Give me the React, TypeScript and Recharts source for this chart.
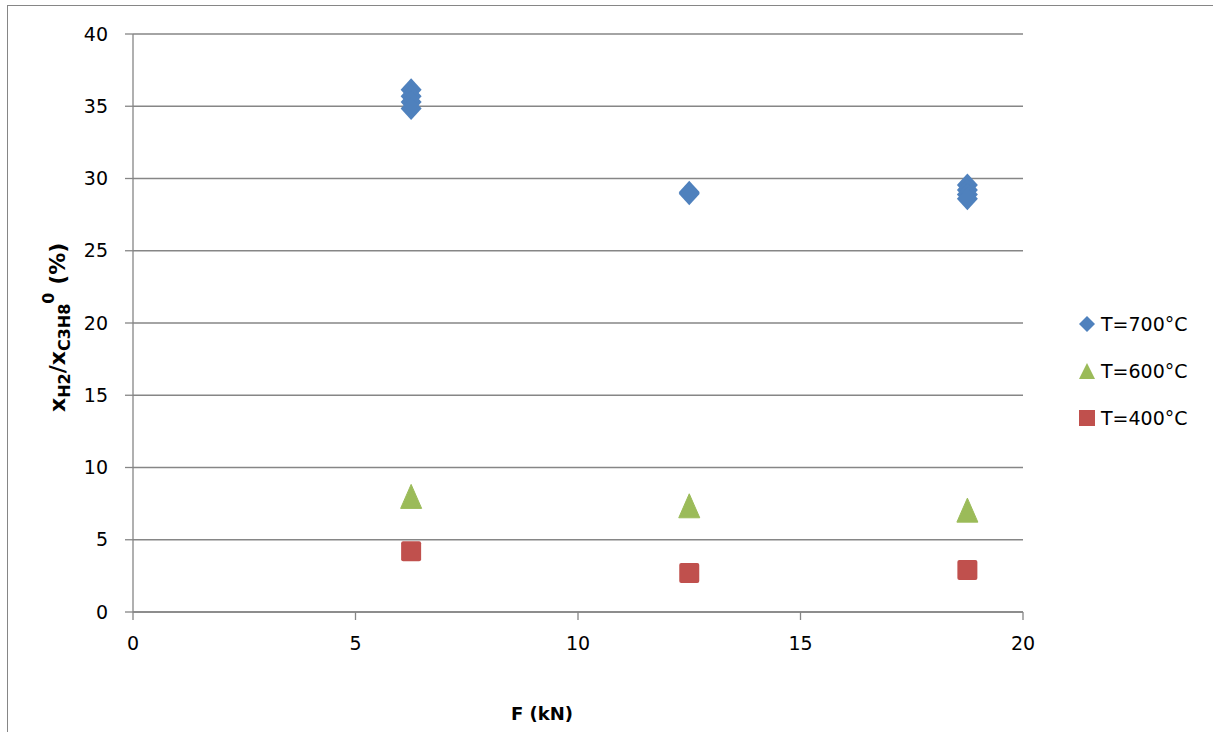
import React from 'react';
import { ScatterChart, Scatter, XAxis, YAxis, CartesianGrid, Legend, Label } from 'recharts';

const xTicks = [0, 5, 10, 15, 20];
const yTicks = [0, 5, 10, 15, 20, 25, 30, 35, 40];

const t700 = [
  { f: 6.25, v: 36.15 },
  { f: 6.25, v: 35.7 },
  { f: 6.25, v: 35.3 },
  { f: 6.25, v: 34.85 },
  { f: 12.5, v: 29.05 },
  { f: 12.5, v: 28.95 },
  { f: 18.75, v: 29.55 },
  { f: 18.75, v: 29.2 },
  { f: 18.75, v: 28.9 },
  { f: 18.75, v: 28.6 },
];
const t600 = [
  { f: 6.25, v: 8.0 },
  { f: 12.5, v: 7.35 },
  { f: 18.75, v: 7.05 },
];
const t400 = [
  { f: 6.25, v: 4.2 },
  { f: 12.5, v: 2.7 },
  { f: 18.75, v: 2.9 },
];

const BLUE = '#4F81BD';
const GREEN = '#9BBB59';
const RED = '#C0504D';
const GRAY = '#868686';
const FONT = 'DejaVu Sans';

const Diamond = (p: any) => (
  <polygon
    points={`${p.cx},${p.cy - 11.5} ${p.cx + 10.5},${p.cy} ${p.cx},${p.cy + 11.5} ${p.cx - 10.5},${p.cy}`}
    fill={BLUE}
  />
);
const Triangle = (p: any) => (
  <polygon
    points={`${p.cx},${p.cy - 12} ${p.cx + 10.5},${p.cy + 12} ${p.cx - 10.5},${p.cy + 12}`}
    fill={GREEN}
    strokeLinejoin="round"
    stroke={GREEN}
    strokeWidth={1}
  />
);
const Square = (p: any) => (
  <rect x={p.cx - 10} y={p.cy - 10} width={20} height={20} rx={2} fill={RED} />
);

const legendItems = [
  { name: 'T=700°C', color: BLUE, kind: 'diamond' },
  { name: 'T=600°C', color: GREEN, kind: 'triangle' },
  { name: 'T=400°C', color: RED, kind: 'square' },
];

const LegendIcon = ({ kind, color }: { kind: string; color: string }) => (
  <svg width={18} height={18} style={{ display: 'block' }}>
    {kind === 'diamond' && <polygon points="9,1 17,9 9,17 1,9" fill={color} />}
    {kind === 'triangle' && <polygon points="9,1 17,17 1,17" fill={color} />}
    {kind === 'square' && <rect x={1} y={1} width={16} height={16} fill={color} />}
  </svg>
);

const renderLegend = () => (
  <div style={{ fontFamily: FONT, fontSize: 19, color: '#000' }}>
    {legendItems.map((it) => (
      <div key={it.name} style={{ display: 'flex', alignItems: 'center', height: 47 }}>
        <LegendIcon kind={it.kind} color={it.color} />
        <span style={{ marginLeft: 5 }}>{it.name}</span>
      </div>
    ))}
  </div>
);

const YLabel = () => (
  <text
    x={65}
    y={412}
    transform="rotate(-90, 65, 412)"
    textAnchor="start"
    fontFamily={FONT}
    fontWeight="bold"
    fontSize={22}
    fill="#000"
  >
    <tspan>x</tspan>
    <tspan fontSize={16} dy={5}>H2</tspan>
    <tspan dy={-5}>/x</tspan>
    <tspan fontSize={16} dy={5}>C3H8</tspan>
    <tspan fontSize={16} dy={-16}>0</tspan>
    <tspan dy={11}> (%)</tspan>
  </text>
);

const XLabel = () => (
  <text x={542} y={720} textAnchor="middle" fontFamily={FONT} fontWeight="bold" fontSize={18} fill="#000">
    F (kN)
  </text>
);

export default function App() {
  return (
    <div style={{ position: 'absolute', left: 0, top: 0, width: 1214, height: 733, background: '#fff' }}>
      <div
        style={{
          position: 'absolute',
          left: 7,
          top: 5,
          width: 1205,
          height: 726,
          borderLeft: `1.5px solid ${GRAY}`,
          borderTop: `1.5px solid ${GRAY}`,
        }}
      />
      <div style={{ position: 'absolute', left: 0, top: 0 }}>
        <ScatterChart width={1214} height={733} margin={{ top: 34, right: 55, bottom: 0, left: 0 }}>
          <CartesianGrid vertical={false} stroke={GRAY} strokeWidth={1.3} />
          <XAxis
            type="number"
            dataKey="f"
            domain={[0, 20]}
            ticks={xTicks}
            height={121}
            stroke={GRAY}
            strokeWidth={1.3}
            tickSize={8}
            tickMargin={17}
            tick={{ fill: '#000', fontSize: 19, fontFamily: FONT }}
            tickLine={{ stroke: GRAY }}
          >
            <Label content={<XLabel />} />
          </XAxis>
          <YAxis
            type="number"
            dataKey="v"
            domain={[0, 40]}
            ticks={yTicks}
            width={133}
            stroke={GRAY}
            strokeWidth={1.3}
            tickSize={8}
            tickMargin={17}
            tick={{ fill: '#000', fontSize: 19, fontFamily: FONT }}
            tickLine={{ stroke: GRAY }}
          >
            <Label content={<YLabel />} />
          </YAxis>
          <Legend
            content={renderLegend}
            layout="vertical"
            align="right"
            verticalAlign="top"
            wrapperStyle={{ left: 1078, top: 300, width: 136 }}
          />
          <Scatter name="T=400°C" data={t400} shape={Square} isAnimationActive={false} />
          <Scatter name="T=600°C" data={t600} shape={Triangle} isAnimationActive={false} />
          <Scatter name="T=700°C" data={t700} shape={Diamond} isAnimationActive={false} />
        </ScatterChart>
      </div>
    </div>
  );
}
